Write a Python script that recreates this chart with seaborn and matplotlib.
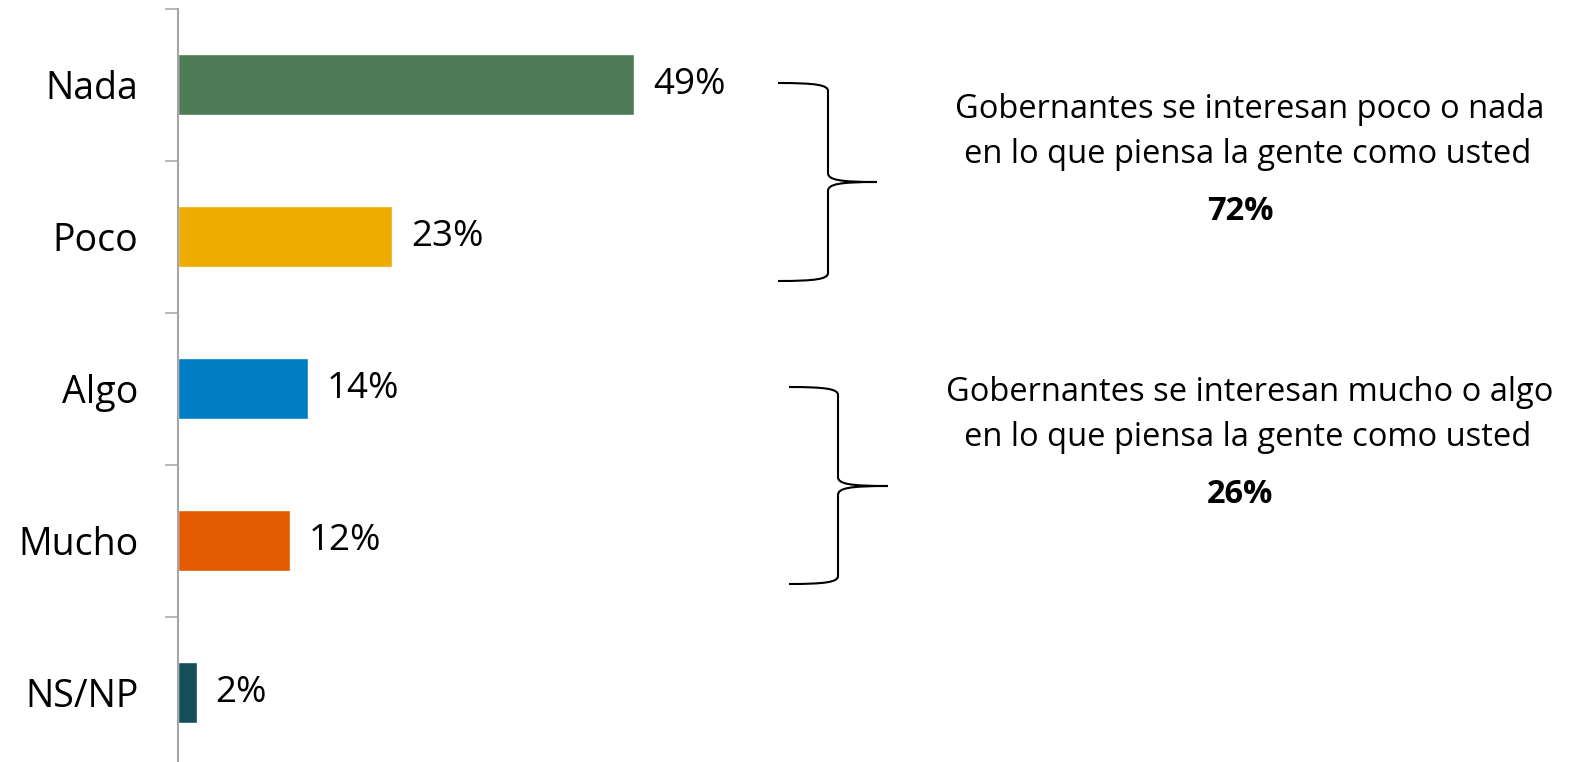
import matplotlib
matplotlib.use("Agg")
import matplotlib.pyplot as plt
from matplotlib.path import Path
from matplotlib.patches import PathPatch
from matplotlib.transforms import Affine2D
import numpy as np
import seaborn as sns

# data
categories = ["Nada", "Poco", "Algo", "Mucho", "NS/NP"]
values = [49, 23, 14, 12, 2]
colors = ["#4f7c57", "#efac00", "#007dc3", "#e45a00", "#164f5c"]
group_lines = [["Gobernantes se interesan poco o nada", "en lo que piensa la gente como usted"],
               ["Gobernantes se interesan mucho o algo", "en lo que piensa la gente como usted"]]
group_totals = ["72%", "26%"]

W, H = 1586, 762
sns.set_style("white")
plt.rcParams["font.family"] = ["Open Sans", "DejaVu Sans"]
plt.rcParams["text.color"] = "black"
plt.rcParams["ytick.color"] = "black"

fig = plt.figure(figsize=(W / 100, H / 100), dpi=100)
ax = fig.add_axes([178 / W, 1 - 768.5 / H, 558.6 / W, 760 / H])

sns.barplot(x=values, y=categories, hue=categories, palette=colors, legend=False,
            orient="h", width=0.4, saturation=1, ax=ax)
ax.set_xlim(0, 60); ax.set_ylim(4.5, -0.5)

for i, v in enumerate(values):
    ax.annotate(f"{v}%", (v, i), xytext=(13.5, 0), textcoords="offset points",
                va="center", ha="left", fontsize=26.5, color="black")

# axis styling: only left spine, ticks between categories
for s in ["top", "right", "bottom"]:
    ax.spines[s].set_visible(False)
ax.spines["left"].set_color("#a6a6a6"); ax.spines["left"].set_linewidth(1.5)
ax.set_xticks([]); ax.set_xlabel(""); ax.set_ylabel("")
ax.set_yticks(range(len(categories)), categories)
ax.set_yticks(np.arange(-0.5, len(categories), 1), minor=True)
ax.tick_params(axis="y", which="major", left=False, length=0, pad=28.5, labelsize=27,
               labelcolor="black")
ax.tick_params(axis="y", which="minor", left=True, length=9.4, width=1.1, color="#a6a6a6")

# braces drawn in pixel coords (y down)
px = Affine2D().scale(1 / W, -1 / H).translate(0, 1) + fig.transFigure


def brace(x0, xv, xp, ytop, ymid, ybot):
    verts = [(x0, ytop), (xv - 12, ytop), (xv, ytop + 2), (xv, ytop + 8),
             (xv, ymid - 9),
             (xv, ymid - 2), (xv + 12, ymid), (xp, ymid),
             (xv + 12, ymid), (xv, ymid + 2), (xv, ymid + 9),
             (xv, ybot - 8),
             (xv, ybot - 2), (xv - 12, ybot), (x0, ybot)]
    codes = [Path.MOVETO, Path.CURVE4, Path.CURVE4, Path.CURVE4, Path.LINETO,
             Path.CURVE4, Path.CURVE4, Path.CURVE4,
             Path.CURVE4, Path.CURVE4, Path.CURVE4, Path.LINETO,
             Path.CURVE4, Path.CURVE4, Path.CURVE4]
    fig.patches.append(PathPatch(Path(verts, codes), fill=False, lw=1.5,
                                 edgecolor="black", transform=px))


brace(778, 828, 877, 83, 182, 281)
brace(789, 838, 888, 387, 486, 584)

# group annotations
for k, (lines, total) in enumerate(zip(group_lines, group_totals)):
    dy = 283 * k
    fig.text(1250, 118 + dy, lines[0], transform=px, ha="center", va="baseline",
             fontsize=23.5, color="black")
    fig.text(1248, 163 + dy, lines[1], transform=px, ha="center", va="baseline",
             fontsize=23.5, color="black")
    fig.text(1240, 220 + dy, total, transform=px, ha="center", va="baseline",
             fontsize=23.5, fontweight="bold", color="black")

fig.savefig("out.png", dpi=100)
